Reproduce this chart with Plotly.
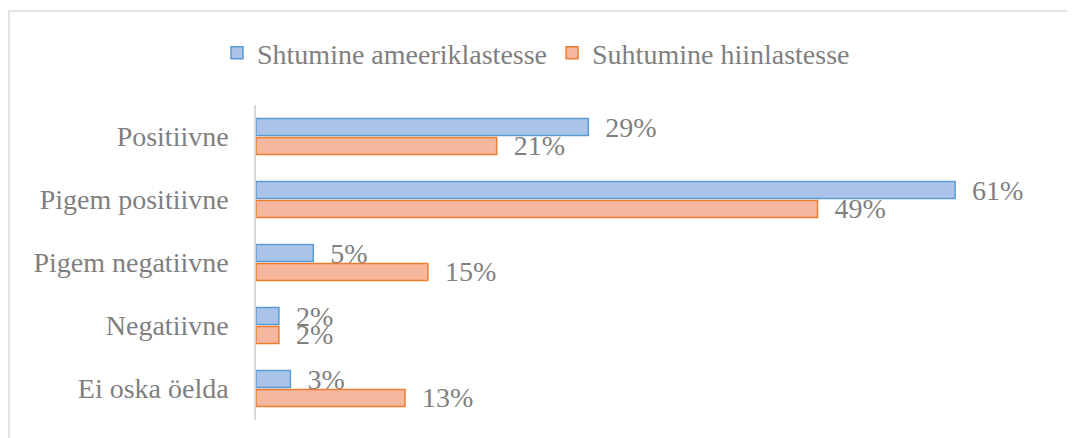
import plotly.graph_objects as go

categories = ['Positiivne', 'Pigem positiivne', 'Pigem negatiivne', 'Negatiivne', 'Ei oska öelda']
americans = [29, 61, 5, 2, 3]
chinese = [21, 49, 15, 2, 13]
series_names = ['Shtumine ameeriklastesse', 'Suhtumine hiinlastesse']

# the page body adds an 8px offset, so layout numbers are shifted by 8
W, H = 1075, 438
ml, mr, mt, mb = 248, 43, 97, 26
pw, ph = W - ml - mr, H - mt - mb
FONT = 'Liberation Serif'
GRAY = '#7f7f7f'
FS = 28

fig = go.Figure()

fig.add_trace(go.Bar(
    y=categories,
    x=americans,
    orientation='h',
    name=series_names[0],
    marker=dict(color='#a9c4e8', line=dict(color='#5b9bd5', width=1.5)),
    text=[f'\u2002{v}%' for v in americans],
    textposition='outside',
    textfont=dict(family=FONT, size=FS, color=GRAY),
    constraintext='none',
    cliponaxis=False,
))

fig.add_trace(go.Bar(
    y=categories,
    x=chinese,
    orientation='h',
    name=series_names[1],
    marker=dict(color='#f5b79d', line=dict(color='#ed7d31', width=1.5)),
    text=[f'\u2002{v}%' for v in chinese],
    textposition='outside',
    textfont=dict(family=FONT, size=FS, color=GRAY),
    constraintext='none',
    cliponaxis=False,
))

# outer chart border (only top/left edges visible in the frame)
fig.add_shape(
    type='rect', xref='paper', yref='paper',
    x0=(1 - ml) / pw, x1=1.2,
    y0=-0.3, y1=(H - mb - 3) / ph,
    line=dict(color='#d9d9d9', width=1.5),
)

fig.update_layout(
    width=W, height=H,
    margin=dict(l=ml, r=mr, t=mt, b=mb, autoexpand=False),
    paper_bgcolor='white',
    plot_bgcolor='white',
    barmode='group',
    bargap=0.4,
    bargroupgap=0.1,
    font=dict(family=FONT, size=FS, color=GRAY),
    showlegend=True,
    legend=dict(
        orientation='h',
        x=(528 - ml) / pw, xanchor='center',
        y=(H - mb - 45) / ph, yanchor='middle',
        font=dict(family=FONT, size=FS, color=GRAY),
        itemwidth=30,
        tracegroupgap=0,
    ),
    xaxis=dict(
        range=[0, pw / 11.46],
        showgrid=False,
        zeroline=False,
        showticklabels=False,
        showline=False,
    ),
    yaxis=dict(
        autorange='reversed',
        automargin=False,
        showgrid=False,
        showline=True,
        linecolor='#d9d9d9',
        linewidth=1.5,
        ticks='',
        ticklabelstandoff=20,
        tickfont=dict(family=FONT, size=FS, color=GRAY),
    ),
)

fig.write_html("out.html")
